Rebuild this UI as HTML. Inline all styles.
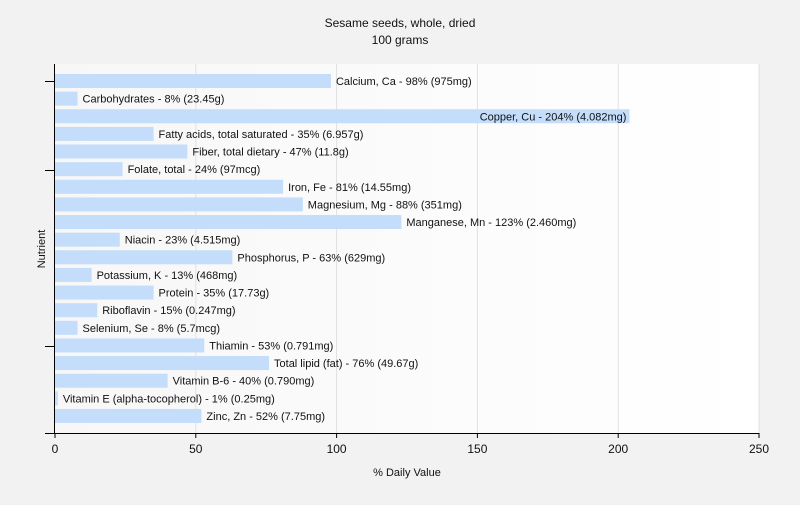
<!DOCTYPE html>
<html><head><meta charset="utf-8"><style>
body{margin:0;background:#f2f2f2;font-family:"Liberation Sans",sans-serif;}
svg text{font-family:"Liberation Sans",sans-serif;fill:#111;}
</style></head><body>
<svg id="chart" width="800" height="500" xmlns="http://www.w3.org/2000/svg">
<defs><linearGradient id="pg" x1="0" x2="1" y1="0" y2="0"><stop offset="0" stop-color="#f7f7f7"/><stop offset="1" stop-color="#ffffff"/></linearGradient></defs>
<rect width="800" height="500" fill="#f2f2f2"/>
<text x="400" y="27" font-size="12" text-anchor="middle">Sesame seeds, whole, dried</text>
<text x="400" y="44" font-size="12" text-anchor="middle">100 grams</text>
<rect x="55" y="64" width="704" height="369" fill="url(#pg)"/>
<g id="grid"></g><g id="bars"></g><g id="axes"></g>
<text x="407" y="476" font-size="11" text-anchor="middle">% Daily Value</text>
<text transform="translate(45,249) rotate(-90)" font-size="11" text-anchor="middle">Nutrient</text>
</svg>
<script>
const categories=["Calcium, Ca - 98% (975mg)","Carbohydrates - 8% (23.45g)","Copper, Cu - 204% (4.082mg)","Fatty acids, total saturated - 35% (6.957g)","Fiber, total dietary - 47% (11.8g)","Folate, total - 24% (97mcg)","Iron, Fe - 81% (14.55mg)","Magnesium, Mg - 88% (351mg)","Manganese, Mn - 123% (2.460mg)","Niacin - 23% (4.515mg)","Phosphorus, P - 63% (629mg)","Potassium, K - 13% (468mg)","Protein - 35% (17.73g)","Riboflavin - 15% (0.247mg)","Selenium, Se - 8% (5.7mcg)","Thiamin - 53% (0.791mg)","Total lipid (fat) - 76% (49.67g)","Vitamin B-6 - 40% (0.790mg)","Vitamin E (alpha-tocopherol) - 1% (0.25mg)","Zinc, Zn - 52% (7.75mg)"];
const values=[98,8,204,35,47,24,81,88,123,23,63,13,35,15,8,53,76,40,1,52];
const xTicks=[0,50,100,150,200,250];
const NS="http://www.w3.org/2000/svg";
const x0=55,x1=759,xmax=250;
function xs(v){return x0+(x1-x0)*v/xmax;}
function ys(i){return 81+i*17.63;}
function mk(tag,attrs,parent){const e=document.createElementNS(NS,tag);for(const k in attrs)e.setAttribute(k,attrs[k]);parent.appendChild(e);return e;}
const grid=document.getElementById('grid'),bars=document.getElementById('bars'),axes=document.getElementById('axes');
xTicks.forEach(t=>{if(t>0){const g=mk('line',{x1:xs(t),x2:xs(t),y1:64,y2:433,stroke:'#e0e0e0'},grid);

}
const tk=mk('line',{x1:xs(t),x2:xs(t),y1:433,y2:438,stroke:'#000'},axes);


const tl=mk('text',{x:xs(t),y:453,'font-size':12,'text-anchor':'middle'},axes);tl.textContent=t;

});
values.forEach((v,i)=>{const y=ys(i);
const r=mk('rect',{x:x0,y:y-7,width:Math.max(xs(v)-x0,1),height:14,fill:'#c4ddfb'},bars);


const t=mk('text',{x:xs(v)+5,y:y+4,'font-size':11},bars);t.textContent=categories[i];


if(xs(v)+5+t.getComputedTextLength()>x1){t.setAttribute('x',xs(v)-3);t.setAttribute('text-anchor','end');}});
const ya=mk('line',{x1:54.5,x2:54.5,y1:64,y2:434,stroke:'#000'},axes);


const xa=mk('line',{x1:45,x2:759,y1:433.5,y2:433.5,stroke:'#000'},axes);


[81,170,346].forEach((yy,k)=>{const l=mk('line',{x1:45,x2:55,y1:yy+0.5,y2:yy+0.5,stroke:'#000'},axes);

});
</script>
</body></html>
